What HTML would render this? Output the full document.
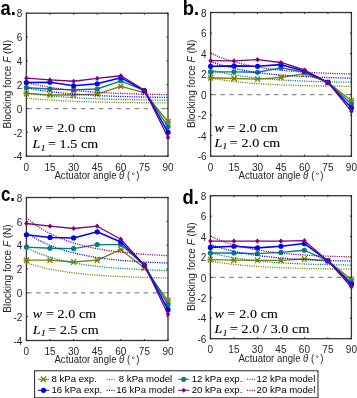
<!DOCTYPE html>
<html><head><meta charset="utf-8"><style>
html,body{margin:0;padding:0;background:#fff;}
body{width:357px;height:398px;overflow:hidden;}
svg{display:block;will-change:transform;}
</style></head><body>
<svg width="357" height="398" viewBox="0 0 357 398">
<rect width="357" height="398" fill="#fff"/>
<clipPath id="ca"><rect x="26.4" y="13.2" width="141.6" height="143"/></clipPath>
<rect x="26.4" y="13.2" width="141.6" height="143" fill="none" stroke="#363636" stroke-width="1.3"/>
<line x1="26.4" y1="108.53" x2="168" y2="108.53" stroke="#8a8a8a" stroke-width="1.2" stroke-dasharray="4.4 4.55" stroke-dashoffset="-0.9"/>
<polyline points="26.4,93.52 50,94.95 73.6,94.95 97.2,94.11 120.8,86.37 144.4,92.56 168,121.76" fill="none" stroke="#808000" stroke-width="1.35" stroke-linejoin="round"/>
<path d="M23.9,90.72L28.9,96.32M23.9,96.32L28.9,90.72M23.4,93.52L29.4,93.52" stroke="#808000" stroke-width="1.3"/>
<path d="M47.5,92.15L52.5,97.75M47.5,97.75L52.5,92.15M47,94.95L53,94.95" stroke="#808000" stroke-width="1.3"/>
<path d="M71.1,92.15L76.1,97.75M71.1,97.75L76.1,92.15M70.6,94.95L76.6,94.95" stroke="#808000" stroke-width="1.3"/>
<path d="M94.7,91.31L99.7,96.91M94.7,96.91L99.7,91.31M94.2,94.11L100.2,94.11" stroke="#808000" stroke-width="1.3"/>
<path d="M118.3,83.57L123.3,89.17M118.3,89.17L123.3,83.57M117.8,86.37L123.8,86.37" stroke="#808000" stroke-width="1.3"/>
<path d="M141.9,89.77L146.9,95.36M141.9,95.36L146.9,89.77M141.4,92.56L147.4,92.56" stroke="#808000" stroke-width="1.3"/>
<path d="M165.5,118.96L170.5,124.56M165.5,124.56L170.5,118.96M165,121.76L171,121.76" stroke="#808000" stroke-width="1.3"/>
<polyline clip-path="url(#ca)" points="26.4,98.14 29.55,98.45 32.69,98.75 35.84,99.02 38.99,99.28 42.13,99.52 45.28,99.75 48.43,99.97 51.57,100.17 54.72,100.36 57.87,100.53 61.01,100.7 64.16,100.86 67.31,101.01 70.45,101.14 73.6,101.27 76.75,101.4 79.89,101.51 83.04,101.62 86.19,101.72 89.33,101.82 92.48,101.9 95.63,101.99 98.77,102.07 101.92,102.14 105.07,102.21 108.21,102.28 111.36,102.34 114.51,102.4 117.65,102.45 120.8,102.5 123.95,102.55 127.09,102.59 130.24,102.64 133.39,102.68 136.53,102.71 139.68,102.75 142.83,102.78 145.97,102.81 149.12,102.84 152.27,102.87 155.41,102.89 158.56,102.92 161.71,102.94 164.85,102.96 168,102.98" fill="none" stroke="#808000" stroke-width="1.3" stroke-dasharray="1.1 1.2"/>
<polyline points="26.4,87.68 50,88.99 73.6,89.94 97.2,88.99 120.8,80.77 144.4,90.66 168,126.77" fill="none" stroke="#008080" stroke-width="1.35" stroke-linejoin="round"/>
<circle cx="26.4" cy="87.68" r="2.6" fill="#008080"/>
<circle cx="50" cy="88.99" r="2.6" fill="#008080"/>
<circle cx="73.6" cy="89.94" r="2.6" fill="#008080"/>
<circle cx="97.2" cy="88.99" r="2.6" fill="#008080"/>
<circle cx="120.8" cy="80.77" r="2.6" fill="#008080"/>
<circle cx="144.4" cy="90.66" r="2.6" fill="#008080"/>
<circle cx="168" cy="126.77" r="2.6" fill="#008080"/>
<polyline clip-path="url(#ca)" points="26.4,92.95 29.55,93.41 32.69,93.85 35.84,94.27 38.99,94.65 42.13,95.02 45.28,95.36 48.43,95.68 51.57,95.98 54.72,96.27 57.87,96.54 61.01,96.79 64.16,97.02 67.31,97.24 70.45,97.45 73.6,97.64 76.75,97.83 79.89,98 83.04,98.16 86.19,98.31 89.33,98.46 92.48,98.59 95.63,98.72 98.77,98.83 101.92,98.95 105.07,99.05 108.21,99.15 111.36,99.24 114.51,99.33 117.65,99.41 120.8,99.48 123.95,99.56 127.09,99.62 130.24,99.69 133.39,99.75 136.53,99.8 139.68,99.85 142.83,99.9 145.97,99.95 149.12,99.99 152.27,100.03 155.41,100.07 158.56,100.11 161.71,100.14 164.85,100.17 168,100.2" fill="none" stroke="#008080" stroke-width="1.3" stroke-dasharray="1.1 1.2"/>
<polyline points="26.4,82.55 50,82.2 73.6,85.77 97.2,83.75 120.8,77.67 144.4,90.66 168,132.37" fill="none" stroke="#0000ff" stroke-width="1.55" stroke-linejoin="round"/>
<circle cx="26.4" cy="82.55" r="2.6" fill="#0000ff"/>
<circle cx="50" cy="82.2" r="2.6" fill="#0000ff"/>
<circle cx="73.6" cy="85.77" r="2.6" fill="#0000ff"/>
<circle cx="97.2" cy="83.75" r="2.6" fill="#0000ff"/>
<circle cx="120.8" cy="77.67" r="2.6" fill="#0000ff"/>
<circle cx="144.4" cy="90.66" r="2.6" fill="#0000ff"/>
<circle cx="168" cy="132.37" r="2.6" fill="#0000ff"/>
<polyline clip-path="url(#ca)" points="26.4,87.75 29.55,88.37 32.69,88.96 35.84,89.51 38.99,90.03 42.13,90.51 45.28,90.97 48.43,91.4 51.57,91.8 54.72,92.18 57.87,92.54 61.01,92.87 64.16,93.18 67.31,93.48 70.45,93.75 73.6,94.01 76.75,94.26 79.89,94.49 83.04,94.7 86.19,94.91 89.33,95.1 92.48,95.28 95.63,95.44 98.77,95.6 101.92,95.75 105.07,95.89 108.21,96.02 111.36,96.14 114.51,96.26 117.65,96.37 120.8,96.47 123.95,96.56 127.09,96.65 130.24,96.74 133.39,96.82 136.53,96.89 139.68,96.96 142.83,97.03 145.97,97.09 149.12,97.15 152.27,97.2 155.41,97.25 158.56,97.3 161.71,97.35 164.85,97.39 168,97.43" fill="none" stroke="#0000ff" stroke-width="1.3" stroke-dasharray="1.1 1.2"/>
<polyline points="26.4,78.15 50,79.93 73.6,81.24 97.2,78.38 120.8,75.76 144.4,90.06 168,137.49" fill="none" stroke="#800080" stroke-width="1.3" stroke-linejoin="round"/>
<path d="M26.4,75.55L28.7,78.15L26.4,80.75L24.1,78.15Z" fill="#800080"/>
<path d="M50,77.33L52.3,79.93L50,82.53L47.7,79.93Z" fill="#800080"/>
<path d="M73.6,78.64L75.9,81.24L73.6,83.84L71.3,81.24Z" fill="#800080"/>
<path d="M97.2,75.78L99.5,78.38L97.2,80.98L94.9,78.38Z" fill="#800080"/>
<path d="M120.8,73.16L123.1,75.76L120.8,78.36L118.5,75.76Z" fill="#800080"/>
<path d="M144.4,87.46L146.7,90.06L144.4,92.66L142.1,90.06Z" fill="#800080"/>
<path d="M168,134.89L170.3,137.49L168,140.09L165.7,137.49Z" fill="#800080"/>
<polyline clip-path="url(#ca)" points="26.4,82.55 29.55,83.33 32.69,84.07 35.84,84.76 38.99,85.4 42.13,86.01 45.28,86.58 48.43,87.12 51.57,87.62 54.72,88.09 57.87,88.54 61.01,88.95 64.16,89.35 67.31,89.71 70.45,90.06 73.6,90.39 76.75,90.69 79.89,90.98 83.04,91.25 86.19,91.5 89.33,91.74 92.48,91.96 95.63,92.17 98.77,92.37 101.92,92.55 105.07,92.73 108.21,92.89 111.36,93.04 114.51,93.19 117.65,93.32 120.8,93.45 123.95,93.57 127.09,93.68 130.24,93.79 133.39,93.89 136.53,93.98 139.68,94.07 142.83,94.15 145.97,94.23 149.12,94.3 152.27,94.37 155.41,94.43 158.56,94.49 161.71,94.55 164.85,94.6 168,94.65" fill="none" stroke="#800080" stroke-width="1.3" stroke-dasharray="1.1 1.2"/>
<line x1="26.4" y1="156.2" x2="26.4" y2="154.7" stroke="#262626" stroke-width="1"/>
<line x1="26.4" y1="13.2" x2="26.4" y2="14.7" stroke="#262626" stroke-width="1"/>
<text x="26.4" y="170.8" text-anchor="middle" font-family="Liberation Sans, sans-serif" font-size="10" fill="#262626">0</text>
<line x1="50" y1="156.2" x2="50" y2="154.7" stroke="#262626" stroke-width="1"/>
<line x1="50" y1="13.2" x2="50" y2="14.7" stroke="#262626" stroke-width="1"/>
<text x="50" y="170.8" text-anchor="middle" font-family="Liberation Sans, sans-serif" font-size="10" fill="#262626">15</text>
<line x1="73.6" y1="156.2" x2="73.6" y2="154.7" stroke="#262626" stroke-width="1"/>
<line x1="73.6" y1="13.2" x2="73.6" y2="14.7" stroke="#262626" stroke-width="1"/>
<text x="73.6" y="170.8" text-anchor="middle" font-family="Liberation Sans, sans-serif" font-size="10" fill="#262626">30</text>
<line x1="97.2" y1="156.2" x2="97.2" y2="154.7" stroke="#262626" stroke-width="1"/>
<line x1="97.2" y1="13.2" x2="97.2" y2="14.7" stroke="#262626" stroke-width="1"/>
<text x="97.2" y="170.8" text-anchor="middle" font-family="Liberation Sans, sans-serif" font-size="10" fill="#262626">45</text>
<line x1="120.8" y1="156.2" x2="120.8" y2="154.7" stroke="#262626" stroke-width="1"/>
<line x1="120.8" y1="13.2" x2="120.8" y2="14.7" stroke="#262626" stroke-width="1"/>
<text x="120.8" y="170.8" text-anchor="middle" font-family="Liberation Sans, sans-serif" font-size="10" fill="#262626">60</text>
<line x1="144.4" y1="156.2" x2="144.4" y2="154.7" stroke="#262626" stroke-width="1"/>
<line x1="144.4" y1="13.2" x2="144.4" y2="14.7" stroke="#262626" stroke-width="1"/>
<text x="144.4" y="170.8" text-anchor="middle" font-family="Liberation Sans, sans-serif" font-size="10" fill="#262626">75</text>
<line x1="168" y1="156.2" x2="168" y2="154.7" stroke="#262626" stroke-width="1"/>
<line x1="168" y1="13.2" x2="168" y2="14.7" stroke="#262626" stroke-width="1"/>
<text x="168" y="170.8" text-anchor="middle" font-family="Liberation Sans, sans-serif" font-size="10" fill="#262626">90</text>
<line x1="26.4" y1="156.2" x2="27.9" y2="156.2" stroke="#262626" stroke-width="1"/>
<line x1="168" y1="156.2" x2="166.5" y2="156.2" stroke="#262626" stroke-width="1"/>
<text x="22.4" y="160.4" text-anchor="end" font-family="Liberation Sans, sans-serif" font-size="10" fill="#262626">-4</text>
<line x1="26.4" y1="132.37" x2="27.9" y2="132.37" stroke="#262626" stroke-width="1"/>
<line x1="168" y1="132.37" x2="166.5" y2="132.37" stroke="#262626" stroke-width="1"/>
<text x="22.4" y="136.57" text-anchor="end" font-family="Liberation Sans, sans-serif" font-size="10" fill="#262626">-2</text>
<line x1="26.4" y1="108.53" x2="27.9" y2="108.53" stroke="#262626" stroke-width="1"/>
<line x1="168" y1="108.53" x2="166.5" y2="108.53" stroke="#262626" stroke-width="1"/>
<text x="22.4" y="112.73" text-anchor="end" font-family="Liberation Sans, sans-serif" font-size="10" fill="#262626">0</text>
<line x1="26.4" y1="84.7" x2="27.9" y2="84.7" stroke="#262626" stroke-width="1"/>
<line x1="168" y1="84.7" x2="166.5" y2="84.7" stroke="#262626" stroke-width="1"/>
<text x="22.4" y="88.9" text-anchor="end" font-family="Liberation Sans, sans-serif" font-size="10" fill="#262626">2</text>
<line x1="26.4" y1="60.87" x2="27.9" y2="60.87" stroke="#262626" stroke-width="1"/>
<line x1="168" y1="60.87" x2="166.5" y2="60.87" stroke="#262626" stroke-width="1"/>
<text x="22.4" y="65.07" text-anchor="end" font-family="Liberation Sans, sans-serif" font-size="10" fill="#262626">4</text>
<line x1="26.4" y1="37.03" x2="27.9" y2="37.03" stroke="#262626" stroke-width="1"/>
<line x1="168" y1="37.03" x2="166.5" y2="37.03" stroke="#262626" stroke-width="1"/>
<text x="22.4" y="41.23" text-anchor="end" font-family="Liberation Sans, sans-serif" font-size="10" fill="#262626">6</text>
<line x1="26.4" y1="13.2" x2="27.9" y2="13.2" stroke="#262626" stroke-width="1"/>
<line x1="168" y1="13.2" x2="166.5" y2="13.2" stroke="#262626" stroke-width="1"/>
<text x="22.4" y="17.4" text-anchor="end" font-family="Liberation Sans, sans-serif" font-size="10" fill="#262626">8</text>
<text transform="translate(54.4,179) scale(0.955,1)" x="0" y="0" font-family="Liberation Sans, sans-serif" font-size="10.1" fill="#262626">Actuator angle <tspan font-style="italic" dx="-0.3">θ</tspan> <tspan dx="0.3">(</tspan><tspan dx="1.3" font-size="9">°</tspan><tspan dx="1.2">)</tspan></text>
<text transform="translate(10.8,84.2) rotate(-90)" x="0" y="0" text-anchor="middle" font-family="Liberation Sans, sans-serif" font-size="10" fill="#262626">Blocking force <tspan font-style="italic">F</tspan> (N)</text>
<text transform="translate(0.6,15) scale(0.92,1)" x="0" y="0" font-family="Liberation Sans, sans-serif" font-size="20" font-weight="bold" fill="#000">a.</text>
<text transform="translate(32.5,131.6) scale(1.13,1)" x="0" y="0" font-family="Liberation Serif, serif" font-size="12.4" letter-spacing="0.1" fill="#000" stroke="#000" stroke-width="0.1"><tspan font-style="italic">w</tspan> = 2.0 cm</text>
<text transform="translate(32.5,148.3) scale(1.13,1)" x="0" y="0" font-family="Liberation Serif, serif" font-size="12.4" letter-spacing="0.1" fill="#000" stroke="#000" stroke-width="0.1"><tspan font-style="italic">L</tspan><tspan font-style="italic" font-size="9" dy="2.2">1</tspan><tspan dy="-2.2" dx="-1.1"> = 1.5 cm</tspan></text>
<clipPath id="cb"><rect x="210.6" y="12.5" width="140.8" height="143.7"/></clipPath>
<rect x="210.6" y="12.5" width="140.8" height="143.7" fill="none" stroke="#363636" stroke-width="1.3"/>
<line x1="210.6" y1="94.61" x2="351.4" y2="94.61" stroke="#8a8a8a" stroke-width="1.2" stroke-dasharray="4.4 4.55" stroke-dashoffset="-0.9"/>
<polyline points="210.6,77.78 234.07,78.5 257.53,79.12 281,77.47 304.47,73.68 327.93,82.4 351.4,100.67" fill="none" stroke="#808000" stroke-width="1.35" stroke-linejoin="round"/>
<path d="M208.1,74.98L213.1,80.58M208.1,80.58L213.1,74.98M207.6,77.78L213.6,77.78" stroke="#808000" stroke-width="1.3"/>
<path d="M231.57,75.7L236.57,81.3M231.57,81.3L236.57,75.7M231.07,78.5L237.07,78.5" stroke="#808000" stroke-width="1.3"/>
<path d="M255.03,76.32L260.03,81.92M255.03,81.92L260.03,76.32M254.53,79.12L260.53,79.12" stroke="#808000" stroke-width="1.3"/>
<path d="M278.5,74.67L283.5,80.27M278.5,80.27L283.5,74.67M278,77.47L284,77.47" stroke="#808000" stroke-width="1.3"/>
<path d="M301.97,70.88L306.97,76.48M301.97,76.48L306.97,70.88M301.47,73.68L307.47,73.68" stroke="#808000" stroke-width="1.3"/>
<path d="M325.43,79.6L330.43,85.2M325.43,85.2L330.43,79.6M324.93,82.4L330.93,82.4" stroke="#808000" stroke-width="1.3"/>
<path d="M348.9,97.87L353.9,103.47M348.9,103.47L353.9,97.87M348.4,100.67L354.4,100.67" stroke="#808000" stroke-width="1.3"/>
<polyline clip-path="url(#cb)" points="210.6,78.03 213.73,78.59 216.86,79.12 219.99,79.62 223.12,80.08 226.24,80.52 229.37,80.92 232.5,81.3 235.63,81.66 238.76,81.99 241.89,82.3 245.02,82.59 248.15,82.87 251.28,83.12 254.4,83.36 257.53,83.58 260.66,83.79 263.79,83.98 266.92,84.17 270.05,84.34 273.18,84.5 276.31,84.65 279.44,84.79 282.56,84.92 285.69,85.04 288.82,85.15 291.95,85.26 295.08,85.36 298.21,85.45 301.34,85.54 304.47,85.62 307.6,85.7 310.72,85.77 313.85,85.84 316.98,85.9 320.11,85.96 323.24,86.02 326.37,86.07 329.5,86.12 332.63,86.16 335.76,86.2 338.88,86.24 342.01,86.28 345.14,86.31 348.27,86.35 351.4,86.38" fill="none" stroke="#808000" stroke-width="1.3" stroke-dasharray="1.1 1.2"/>
<polyline points="210.6,71.83 234.07,71.83 257.53,72.24 281,67.82 304.47,72.03 327.93,82.4 351.4,104.06" fill="none" stroke="#008080" stroke-width="1.35" stroke-linejoin="round"/>
<circle cx="210.6" cy="71.83" r="2.6" fill="#008080"/>
<circle cx="234.07" cy="71.83" r="2.6" fill="#008080"/>
<circle cx="257.53" cy="72.24" r="2.6" fill="#008080"/>
<circle cx="281" cy="67.82" r="2.6" fill="#008080"/>
<circle cx="304.47" cy="72.03" r="2.6" fill="#008080"/>
<circle cx="327.93" cy="82.4" r="2.6" fill="#008080"/>
<circle cx="351.4" cy="104.06" r="2.6" fill="#008080"/>
<polyline clip-path="url(#cb)" points="210.6,69.73 213.73,70.58 216.86,71.38 219.99,72.12 223.12,72.82 226.24,73.47 229.37,74.08 232.5,74.65 235.63,75.18 238.76,75.68 241.89,76.15 245.02,76.58 248.15,76.99 251.28,77.37 254.4,77.73 257.53,78.06 260.66,78.38 263.79,78.67 266.92,78.94 270.05,79.2 273.18,79.44 276.31,79.66 279.44,79.87 282.56,80.07 285.69,80.25 288.82,80.42 291.95,80.58 295.08,80.73 298.21,80.87 301.34,81.01 304.47,81.13 307.6,81.24 310.72,81.35 313.85,81.45 316.98,81.55 320.11,81.63 323.24,81.72 326.37,81.79 329.5,81.87 332.63,81.93 335.76,82 338.88,82.06 342.01,82.11 345.14,82.16 348.27,82.21 351.4,82.26" fill="none" stroke="#008080" stroke-width="1.3" stroke-dasharray="1.1 1.2"/>
<polyline points="210.6,66.28 234.07,65.87 257.53,66.28 281,64.64 304.47,71.01 327.93,82.4 351.4,107.96" fill="none" stroke="#0000ff" stroke-width="1.55" stroke-linejoin="round"/>
<circle cx="210.6" cy="66.28" r="2.6" fill="#0000ff"/>
<circle cx="234.07" cy="65.87" r="2.6" fill="#0000ff"/>
<circle cx="257.53" cy="66.28" r="2.6" fill="#0000ff"/>
<circle cx="281" cy="64.64" r="2.6" fill="#0000ff"/>
<circle cx="304.47" cy="71.01" r="2.6" fill="#0000ff"/>
<circle cx="327.93" cy="82.4" r="2.6" fill="#0000ff"/>
<circle cx="351.4" cy="107.96" r="2.6" fill="#0000ff"/>
<polyline clip-path="url(#cb)" points="210.6,61.44 213.73,62.57 216.86,63.63 219.99,64.63 223.12,65.55 226.24,66.42 229.37,67.23 232.5,67.99 235.63,68.7 238.76,69.37 241.89,69.99 245.02,70.57 248.15,71.12 251.28,71.63 254.4,72.1 257.53,72.55 260.66,72.96 263.79,73.35 266.92,73.72 270.05,74.06 273.18,74.38 276.31,74.68 279.44,74.96 282.56,75.22 285.69,75.46 288.82,75.69 291.95,75.91 295.08,76.11 298.21,76.3 301.34,76.47 304.47,76.63 307.6,76.79 310.72,76.93 313.85,77.07 316.98,77.19 320.11,77.31 323.24,77.42 326.37,77.52 329.5,77.62 332.63,77.71 335.76,77.79 338.88,77.87 342.01,77.94 345.14,78.01 348.27,78.08 351.4,78.14" fill="none" stroke="#0000ff" stroke-width="1.3" stroke-dasharray="1.1 1.2"/>
<polyline points="210.6,60.64 234.07,60.95 257.53,59.61 281,62.49 304.47,69.98 327.93,82.4 351.4,111.35" fill="none" stroke="#800080" stroke-width="1.3" stroke-linejoin="round"/>
<path d="M210.6,58.04L212.9,60.64L210.6,63.24L208.3,60.64Z" fill="#800080"/>
<path d="M234.07,58.35L236.37,60.95L234.07,63.55L231.77,60.95Z" fill="#800080"/>
<path d="M257.53,57.01L259.83,59.61L257.53,62.21L255.23,59.61Z" fill="#800080"/>
<path d="M281,59.89L283.3,62.49L281,65.09L278.7,62.49Z" fill="#800080"/>
<path d="M304.47,67.38L306.77,69.98L304.47,72.58L302.17,69.98Z" fill="#800080"/>
<path d="M327.93,79.8L330.23,82.4L327.93,85L325.63,82.4Z" fill="#800080"/>
<path d="M351.4,108.75L353.7,111.35L351.4,113.95L349.1,111.35Z" fill="#800080"/>
<polyline clip-path="url(#cb)" points="210.6,53.15 213.73,54.56 216.86,55.89 219.99,57.13 223.12,58.29 226.24,59.37 229.37,60.39 232.5,61.34 235.63,62.23 238.76,63.06 241.89,63.83 245.02,64.56 248.15,65.24 251.28,65.88 254.4,66.47 257.53,67.03 260.66,67.55 263.79,68.04 266.92,68.5 270.05,68.92 273.18,69.32 276.31,69.7 279.44,70.04 282.56,70.37 285.69,70.68 288.82,70.96 291.95,71.23 295.08,71.48 298.21,71.72 301.34,71.93 304.47,72.14 307.6,72.33 310.72,72.51 313.85,72.68 316.98,72.84 320.11,72.98 323.24,73.12 326.37,73.25 329.5,73.37 332.63,73.48 335.76,73.59 338.88,73.68 342.01,73.78 345.14,73.86 348.27,73.94 351.4,74.02" fill="none" stroke="#800080" stroke-width="1.3" stroke-dasharray="1.1 1.2"/>
<line x1="210.6" y1="156.2" x2="210.6" y2="154.7" stroke="#262626" stroke-width="1"/>
<line x1="210.6" y1="12.5" x2="210.6" y2="14" stroke="#262626" stroke-width="1"/>
<text x="210.6" y="170.8" text-anchor="middle" font-family="Liberation Sans, sans-serif" font-size="10" fill="#262626">0</text>
<line x1="234.07" y1="156.2" x2="234.07" y2="154.7" stroke="#262626" stroke-width="1"/>
<line x1="234.07" y1="12.5" x2="234.07" y2="14" stroke="#262626" stroke-width="1"/>
<text x="234.07" y="170.8" text-anchor="middle" font-family="Liberation Sans, sans-serif" font-size="10" fill="#262626">15</text>
<line x1="257.53" y1="156.2" x2="257.53" y2="154.7" stroke="#262626" stroke-width="1"/>
<line x1="257.53" y1="12.5" x2="257.53" y2="14" stroke="#262626" stroke-width="1"/>
<text x="257.53" y="170.8" text-anchor="middle" font-family="Liberation Sans, sans-serif" font-size="10" fill="#262626">30</text>
<line x1="281" y1="156.2" x2="281" y2="154.7" stroke="#262626" stroke-width="1"/>
<line x1="281" y1="12.5" x2="281" y2="14" stroke="#262626" stroke-width="1"/>
<text x="281" y="170.8" text-anchor="middle" font-family="Liberation Sans, sans-serif" font-size="10" fill="#262626">45</text>
<line x1="304.47" y1="156.2" x2="304.47" y2="154.7" stroke="#262626" stroke-width="1"/>
<line x1="304.47" y1="12.5" x2="304.47" y2="14" stroke="#262626" stroke-width="1"/>
<text x="304.47" y="170.8" text-anchor="middle" font-family="Liberation Sans, sans-serif" font-size="10" fill="#262626">60</text>
<line x1="327.93" y1="156.2" x2="327.93" y2="154.7" stroke="#262626" stroke-width="1"/>
<line x1="327.93" y1="12.5" x2="327.93" y2="14" stroke="#262626" stroke-width="1"/>
<text x="327.93" y="170.8" text-anchor="middle" font-family="Liberation Sans, sans-serif" font-size="10" fill="#262626">75</text>
<line x1="351.4" y1="156.2" x2="351.4" y2="154.7" stroke="#262626" stroke-width="1"/>
<line x1="351.4" y1="12.5" x2="351.4" y2="14" stroke="#262626" stroke-width="1"/>
<text x="351.4" y="170.8" text-anchor="middle" font-family="Liberation Sans, sans-serif" font-size="10" fill="#262626">90</text>
<line x1="210.6" y1="156.2" x2="212.1" y2="156.2" stroke="#262626" stroke-width="1"/>
<line x1="351.4" y1="156.2" x2="349.9" y2="156.2" stroke="#262626" stroke-width="1"/>
<text x="206.6" y="160.4" text-anchor="end" font-family="Liberation Sans, sans-serif" font-size="10" fill="#262626">-6</text>
<line x1="210.6" y1="135.67" x2="212.1" y2="135.67" stroke="#262626" stroke-width="1"/>
<line x1="351.4" y1="135.67" x2="349.9" y2="135.67" stroke="#262626" stroke-width="1"/>
<text x="206.6" y="139.87" text-anchor="end" font-family="Liberation Sans, sans-serif" font-size="10" fill="#262626">-4</text>
<line x1="210.6" y1="115.14" x2="212.1" y2="115.14" stroke="#262626" stroke-width="1"/>
<line x1="351.4" y1="115.14" x2="349.9" y2="115.14" stroke="#262626" stroke-width="1"/>
<text x="206.6" y="119.34" text-anchor="end" font-family="Liberation Sans, sans-serif" font-size="10" fill="#262626">-2</text>
<line x1="210.6" y1="94.61" x2="212.1" y2="94.61" stroke="#262626" stroke-width="1"/>
<line x1="351.4" y1="94.61" x2="349.9" y2="94.61" stroke="#262626" stroke-width="1"/>
<text x="206.6" y="98.81" text-anchor="end" font-family="Liberation Sans, sans-serif" font-size="10" fill="#262626">0</text>
<line x1="210.6" y1="74.09" x2="212.1" y2="74.09" stroke="#262626" stroke-width="1"/>
<line x1="351.4" y1="74.09" x2="349.9" y2="74.09" stroke="#262626" stroke-width="1"/>
<text x="206.6" y="78.29" text-anchor="end" font-family="Liberation Sans, sans-serif" font-size="10" fill="#262626">2</text>
<line x1="210.6" y1="53.56" x2="212.1" y2="53.56" stroke="#262626" stroke-width="1"/>
<line x1="351.4" y1="53.56" x2="349.9" y2="53.56" stroke="#262626" stroke-width="1"/>
<text x="206.6" y="57.76" text-anchor="end" font-family="Liberation Sans, sans-serif" font-size="10" fill="#262626">4</text>
<line x1="210.6" y1="33.03" x2="212.1" y2="33.03" stroke="#262626" stroke-width="1"/>
<line x1="351.4" y1="33.03" x2="349.9" y2="33.03" stroke="#262626" stroke-width="1"/>
<text x="206.6" y="37.23" text-anchor="end" font-family="Liberation Sans, sans-serif" font-size="10" fill="#262626">6</text>
<line x1="210.6" y1="12.5" x2="212.1" y2="12.5" stroke="#262626" stroke-width="1"/>
<line x1="351.4" y1="12.5" x2="349.9" y2="12.5" stroke="#262626" stroke-width="1"/>
<text x="206.6" y="16.7" text-anchor="end" font-family="Liberation Sans, sans-serif" font-size="10" fill="#262626">8</text>
<text transform="translate(238.6,179) scale(0.955,1)" x="0" y="0" font-family="Liberation Sans, sans-serif" font-size="10.1" fill="#262626">Actuator angle <tspan font-style="italic" dx="-0.3">θ</tspan> <tspan dx="0.3">(</tspan><tspan dx="1.3" font-size="9">°</tspan><tspan dx="1.2">)</tspan></text>
<text transform="translate(195,83.85) rotate(-90)" x="0" y="0" text-anchor="middle" font-family="Liberation Sans, sans-serif" font-size="10" fill="#262626">Blocking force <tspan font-style="italic">F</tspan> (N)</text>
<text transform="translate(182.8,14.6) scale(0.92,1)" x="0" y="0" font-family="Liberation Sans, sans-serif" font-size="20" font-weight="bold" fill="#000">b.</text>
<text transform="translate(214.4,131.6) scale(1.13,1)" x="0" y="0" font-family="Liberation Serif, serif" font-size="12.4" letter-spacing="0.1" fill="#000" stroke="#000" stroke-width="0.1"><tspan font-style="italic">w</tspan> = 2.0 cm</text>
<text transform="translate(214.4,147) scale(1.13,1)" x="0" y="0" font-family="Liberation Serif, serif" font-size="12.4" letter-spacing="0.1" fill="#000" stroke="#000" stroke-width="0.1"><tspan font-style="italic">L</tspan><tspan font-style="italic" font-size="9" dy="2.2">1</tspan><tspan dy="-2.2" dx="-1.1"> = 2.0 cm</tspan></text>
<clipPath id="cc"><rect x="26.4" y="197.5" width="141.6" height="143"/></clipPath>
<rect x="26.4" y="197.5" width="141.6" height="143" fill="none" stroke="#363636" stroke-width="1.3"/>
<line x1="26.4" y1="292.83" x2="168" y2="292.83" stroke="#8a8a8a" stroke-width="1.2" stroke-dasharray="4.4 4.55" stroke-dashoffset="-0.9"/>
<polyline points="26.4,260.18 50,260.18 73.6,261.97 97.2,260.18 120.8,249.69 144.4,268.05 168,300.58" fill="none" stroke="#808000" stroke-width="1.35" stroke-linejoin="round"/>
<path d="M23.9,257.38L28.9,262.98M23.9,262.98L28.9,257.38M23.4,260.18L29.4,260.18" stroke="#808000" stroke-width="1.3"/>
<path d="M47.5,257.38L52.5,262.98M47.5,262.98L52.5,257.38M47,260.18L53,260.18" stroke="#808000" stroke-width="1.3"/>
<path d="M71.1,259.17L76.1,264.77M71.1,264.77L76.1,259.17M70.6,261.97L76.6,261.97" stroke="#808000" stroke-width="1.3"/>
<path d="M94.7,257.38L99.7,262.98M94.7,262.98L99.7,257.38M94.2,260.18L100.2,260.18" stroke="#808000" stroke-width="1.3"/>
<path d="M118.3,246.89L123.3,252.5M118.3,252.5L123.3,246.89M117.8,249.69L123.8,249.69" stroke="#808000" stroke-width="1.3"/>
<path d="M141.9,265.25L146.9,270.85M141.9,270.85L146.9,265.25M141.4,268.05L147.4,268.05" stroke="#808000" stroke-width="1.3"/>
<path d="M165.5,297.78L170.5,303.38M165.5,303.38L170.5,297.78M165,300.58L171,300.58" stroke="#808000" stroke-width="1.3"/>
<polyline clip-path="url(#cc)" points="26.4,262.8 29.55,263.83 32.69,264.79 35.84,265.69 38.99,266.53 42.13,267.32 45.28,268.05 48.43,268.74 51.57,269.38 54.72,269.99 57.87,270.55 61.01,271.08 64.16,271.57 67.31,272.03 70.45,272.46 73.6,272.87 76.75,273.24 79.89,273.6 83.04,273.93 86.19,274.24 89.33,274.53 92.48,274.8 95.63,275.05 98.77,275.29 101.92,275.51 105.07,275.72 108.21,275.91 111.36,276.09 114.51,276.26 117.65,276.42 120.8,276.57 123.95,276.71 127.09,276.84 130.24,276.96 133.39,277.07 136.53,277.18 139.68,277.28 142.83,277.37 145.97,277.46 149.12,277.54 152.27,277.62 155.41,277.69 158.56,277.76 161.71,277.82 164.85,277.88 168,277.93" fill="none" stroke="#808000" stroke-width="1.3" stroke-dasharray="1.1 1.2"/>
<polyline points="26.4,247.07 50,248.26 73.6,248.62 97.2,244.57 120.8,244.57 144.4,265.43 168,304.63" fill="none" stroke="#008080" stroke-width="1.35" stroke-linejoin="round"/>
<circle cx="26.4" cy="247.07" r="2.6" fill="#008080"/>
<circle cx="50" cy="248.26" r="2.6" fill="#008080"/>
<circle cx="73.6" cy="248.62" r="2.6" fill="#008080"/>
<circle cx="97.2" cy="244.57" r="2.6" fill="#008080"/>
<circle cx="120.8" cy="244.57" r="2.6" fill="#008080"/>
<circle cx="144.4" cy="265.43" r="2.6" fill="#008080"/>
<circle cx="168" cy="304.63" r="2.6" fill="#008080"/>
<polyline clip-path="url(#cc)" points="26.4,247.79 29.55,249.33 32.69,250.77 35.84,252.12 38.99,253.38 42.13,254.56 45.28,255.66 48.43,256.69 51.57,257.66 54.72,258.56 57.87,259.41 61.01,260.2 64.16,260.94 67.31,261.63 70.45,262.28 73.6,262.88 76.75,263.45 79.89,263.98 83.04,264.48 86.19,264.94 89.33,265.37 92.48,265.78 95.63,266.16 98.77,266.52 101.92,266.85 105.07,267.16 108.21,267.45 111.36,267.72 114.51,267.98 117.65,268.21 120.8,268.44 123.95,268.65 127.09,268.84 130.24,269.02 133.39,269.19 136.53,269.35 139.68,269.5 142.83,269.64 145.97,269.77 149.12,269.9 152.27,270.01 155.41,270.12 158.56,270.22 161.71,270.31 164.85,270.4 168,270.48" fill="none" stroke="#008080" stroke-width="1.3" stroke-dasharray="1.1 1.2"/>
<polyline points="26.4,234.8 50,237.42 73.6,237.9 97.2,231.82 120.8,241.95 144.4,265.07 168,309.64" fill="none" stroke="#0000ff" stroke-width="1.55" stroke-linejoin="round"/>
<circle cx="26.4" cy="234.8" r="2.6" fill="#0000ff"/>
<circle cx="50" cy="237.42" r="2.6" fill="#0000ff"/>
<circle cx="73.6" cy="237.9" r="2.6" fill="#0000ff"/>
<circle cx="97.2" cy="231.82" r="2.6" fill="#0000ff"/>
<circle cx="120.8" cy="241.95" r="2.6" fill="#0000ff"/>
<circle cx="144.4" cy="265.07" r="2.6" fill="#0000ff"/>
<circle cx="168" cy="309.64" r="2.6" fill="#0000ff"/>
<polyline clip-path="url(#cc)" points="26.4,232.77 29.55,234.83 32.69,236.75 35.84,238.55 38.99,240.23 42.13,241.8 45.28,243.27 48.43,244.65 51.57,245.94 54.72,247.14 57.87,248.27 61.01,249.32 64.16,250.31 67.31,251.23 70.45,252.09 73.6,252.9 76.75,253.66 79.89,254.36 83.04,255.02 86.19,255.64 89.33,256.22 92.48,256.76 95.63,257.27 98.77,257.74 101.92,258.19 105.07,258.6 108.21,258.99 111.36,259.35 114.51,259.69 117.65,260.01 120.8,260.31 123.95,260.58 127.09,260.84 130.24,261.09 133.39,261.31 136.53,261.53 139.68,261.73 142.83,261.91 145.97,262.09 149.12,262.25 152.27,262.4 155.41,262.54 158.56,262.68 161.71,262.8 164.85,262.92 168,263.03" fill="none" stroke="#0000ff" stroke-width="1.3" stroke-dasharray="1.1 1.2"/>
<polyline points="26.4,223.48 50,226.22 73.6,228.48 97.2,226.22 120.8,239.21 144.4,265.07 168,314.16" fill="none" stroke="#800080" stroke-width="1.3" stroke-linejoin="round"/>
<path d="M26.4,220.88L28.7,223.48L26.4,226.08L24.1,223.48Z" fill="#800080"/>
<path d="M50,223.62L52.3,226.22L50,228.82L47.7,226.22Z" fill="#800080"/>
<path d="M73.6,225.88L75.9,228.48L73.6,231.08L71.3,228.48Z" fill="#800080"/>
<path d="M97.2,223.62L99.5,226.22L97.2,228.82L94.9,226.22Z" fill="#800080"/>
<path d="M120.8,236.61L123.1,239.21L120.8,241.81L118.5,239.21Z" fill="#800080"/>
<path d="M144.4,262.47L146.7,265.07L144.4,267.67L142.1,265.07Z" fill="#800080"/>
<path d="M168,311.56L170.3,314.16L168,316.76L165.7,314.16Z" fill="#800080"/>
<polyline clip-path="url(#cc)" points="26.4,217.76 29.55,220.33 32.69,222.73 35.84,224.97 38.99,227.07 42.13,229.04 45.28,230.88 48.43,232.6 51.57,234.21 54.72,235.72 57.87,237.13 61.01,238.44 64.16,239.68 67.31,240.83 70.45,241.91 73.6,242.92 76.75,243.86 79.89,244.75 83.04,245.57 86.19,246.35 89.33,247.07 92.48,247.75 95.63,248.38 98.77,248.97 101.92,249.52 105.07,250.04 108.21,250.53 111.36,250.98 114.51,251.41 117.65,251.8 120.8,252.17 123.95,252.52 127.09,252.85 130.24,253.15 133.39,253.43 136.53,253.7 139.68,253.95 142.83,254.18 145.97,254.4 149.12,254.6 152.27,254.79 155.41,254.97 158.56,255.14 161.71,255.3 164.85,255.44 168,255.58" fill="none" stroke="#800080" stroke-width="1.3" stroke-dasharray="1.1 1.2"/>
<line x1="26.4" y1="340.5" x2="26.4" y2="339" stroke="#262626" stroke-width="1"/>
<line x1="26.4" y1="197.5" x2="26.4" y2="199" stroke="#262626" stroke-width="1"/>
<text x="26.4" y="355.1" text-anchor="middle" font-family="Liberation Sans, sans-serif" font-size="10" fill="#262626">0</text>
<line x1="50" y1="340.5" x2="50" y2="339" stroke="#262626" stroke-width="1"/>
<line x1="50" y1="197.5" x2="50" y2="199" stroke="#262626" stroke-width="1"/>
<text x="50" y="355.1" text-anchor="middle" font-family="Liberation Sans, sans-serif" font-size="10" fill="#262626">15</text>
<line x1="73.6" y1="340.5" x2="73.6" y2="339" stroke="#262626" stroke-width="1"/>
<line x1="73.6" y1="197.5" x2="73.6" y2="199" stroke="#262626" stroke-width="1"/>
<text x="73.6" y="355.1" text-anchor="middle" font-family="Liberation Sans, sans-serif" font-size="10" fill="#262626">30</text>
<line x1="97.2" y1="340.5" x2="97.2" y2="339" stroke="#262626" stroke-width="1"/>
<line x1="97.2" y1="197.5" x2="97.2" y2="199" stroke="#262626" stroke-width="1"/>
<text x="97.2" y="355.1" text-anchor="middle" font-family="Liberation Sans, sans-serif" font-size="10" fill="#262626">45</text>
<line x1="120.8" y1="340.5" x2="120.8" y2="339" stroke="#262626" stroke-width="1"/>
<line x1="120.8" y1="197.5" x2="120.8" y2="199" stroke="#262626" stroke-width="1"/>
<text x="120.8" y="355.1" text-anchor="middle" font-family="Liberation Sans, sans-serif" font-size="10" fill="#262626">60</text>
<line x1="144.4" y1="340.5" x2="144.4" y2="339" stroke="#262626" stroke-width="1"/>
<line x1="144.4" y1="197.5" x2="144.4" y2="199" stroke="#262626" stroke-width="1"/>
<text x="144.4" y="355.1" text-anchor="middle" font-family="Liberation Sans, sans-serif" font-size="10" fill="#262626">75</text>
<line x1="168" y1="340.5" x2="168" y2="339" stroke="#262626" stroke-width="1"/>
<line x1="168" y1="197.5" x2="168" y2="199" stroke="#262626" stroke-width="1"/>
<text x="168" y="355.1" text-anchor="middle" font-family="Liberation Sans, sans-serif" font-size="10" fill="#262626">90</text>
<line x1="26.4" y1="340.5" x2="27.9" y2="340.5" stroke="#262626" stroke-width="1"/>
<line x1="168" y1="340.5" x2="166.5" y2="340.5" stroke="#262626" stroke-width="1"/>
<text x="22.4" y="344.7" text-anchor="end" font-family="Liberation Sans, sans-serif" font-size="10" fill="#262626">-4</text>
<line x1="26.4" y1="316.67" x2="27.9" y2="316.67" stroke="#262626" stroke-width="1"/>
<line x1="168" y1="316.67" x2="166.5" y2="316.67" stroke="#262626" stroke-width="1"/>
<text x="22.4" y="320.87" text-anchor="end" font-family="Liberation Sans, sans-serif" font-size="10" fill="#262626">-2</text>
<line x1="26.4" y1="292.83" x2="27.9" y2="292.83" stroke="#262626" stroke-width="1"/>
<line x1="168" y1="292.83" x2="166.5" y2="292.83" stroke="#262626" stroke-width="1"/>
<text x="22.4" y="297.03" text-anchor="end" font-family="Liberation Sans, sans-serif" font-size="10" fill="#262626">0</text>
<line x1="26.4" y1="269" x2="27.9" y2="269" stroke="#262626" stroke-width="1"/>
<line x1="168" y1="269" x2="166.5" y2="269" stroke="#262626" stroke-width="1"/>
<text x="22.4" y="273.2" text-anchor="end" font-family="Liberation Sans, sans-serif" font-size="10" fill="#262626">2</text>
<line x1="26.4" y1="245.17" x2="27.9" y2="245.17" stroke="#262626" stroke-width="1"/>
<line x1="168" y1="245.17" x2="166.5" y2="245.17" stroke="#262626" stroke-width="1"/>
<text x="22.4" y="249.37" text-anchor="end" font-family="Liberation Sans, sans-serif" font-size="10" fill="#262626">4</text>
<line x1="26.4" y1="221.33" x2="27.9" y2="221.33" stroke="#262626" stroke-width="1"/>
<line x1="168" y1="221.33" x2="166.5" y2="221.33" stroke="#262626" stroke-width="1"/>
<text x="22.4" y="225.53" text-anchor="end" font-family="Liberation Sans, sans-serif" font-size="10" fill="#262626">6</text>
<line x1="26.4" y1="197.5" x2="27.9" y2="197.5" stroke="#262626" stroke-width="1"/>
<line x1="168" y1="197.5" x2="166.5" y2="197.5" stroke="#262626" stroke-width="1"/>
<text x="22.4" y="201.7" text-anchor="end" font-family="Liberation Sans, sans-serif" font-size="10" fill="#262626">8</text>
<text transform="translate(54.4,363.3) scale(0.955,1)" x="0" y="0" font-family="Liberation Sans, sans-serif" font-size="10.1" fill="#262626">Actuator angle <tspan font-style="italic" dx="-0.3">θ</tspan> <tspan dx="0.3">(</tspan><tspan dx="1.3" font-size="9">°</tspan><tspan dx="1.2">)</tspan></text>
<text transform="translate(10.8,268.5) rotate(-90)" x="0" y="0" text-anchor="middle" font-family="Liberation Sans, sans-serif" font-size="10" fill="#262626">Blocking force <tspan font-style="italic">F</tspan> (N)</text>
<text transform="translate(0.9,201) scale(0.85,1)" x="0" y="0" font-family="Liberation Sans, sans-serif" font-size="20" font-weight="bold" fill="#000">c.</text>
<text transform="translate(32.8,318.1) scale(1.13,1)" x="0" y="0" font-family="Liberation Serif, serif" font-size="12.4" letter-spacing="0.1" fill="#000" stroke="#000" stroke-width="0.1"><tspan font-style="italic">w</tspan> = 2.0 cm</text>
<text transform="translate(32.8,333.9) scale(1.13,1)" x="0" y="0" font-family="Liberation Serif, serif" font-size="12.4" letter-spacing="0.1" fill="#000" stroke="#000" stroke-width="0.1"><tspan font-style="italic">L</tspan><tspan font-style="italic" font-size="9" dy="2.2">1</tspan><tspan dy="-2.2" dx="-1.1"> = 2.5 cm</tspan></text>
<clipPath id="cd"><rect x="210.4" y="195.7" width="141" height="143"/></clipPath>
<rect x="210.4" y="195.7" width="141" height="143" fill="none" stroke="#363636" stroke-width="1.3"/>
<line x1="210.4" y1="277.41" x2="351.4" y2="277.41" stroke="#8a8a8a" stroke-width="1.2" stroke-dasharray="4.4 4.55" stroke-dashoffset="-0.9"/>
<polyline points="210.4,259.64 233.9,260.15 257.4,260.36 280.9,260.36 304.4,259.03 327.9,260.87 351.4,279.46" fill="none" stroke="#808000" stroke-width="1.35" stroke-linejoin="round"/>
<path d="M207.9,256.84L212.9,262.44M207.9,262.44L212.9,256.84M207.4,259.64L213.4,259.64" stroke="#808000" stroke-width="1.3"/>
<path d="M231.4,257.35L236.4,262.95M231.4,262.95L236.4,257.35M230.9,260.15L236.9,260.15" stroke="#808000" stroke-width="1.3"/>
<path d="M254.9,257.56L259.9,263.16M254.9,263.16L259.9,257.56M254.4,260.36L260.4,260.36" stroke="#808000" stroke-width="1.3"/>
<path d="M278.4,257.56L283.4,263.16M278.4,263.16L283.4,257.56M277.9,260.36L283.9,260.36" stroke="#808000" stroke-width="1.3"/>
<path d="M301.9,256.23L306.9,261.83M301.9,261.83L306.9,256.23M301.4,259.03L307.4,259.03" stroke="#808000" stroke-width="1.3"/>
<path d="M325.4,258.07L330.4,263.67M325.4,263.67L330.4,258.07M324.9,260.87L330.9,260.87" stroke="#808000" stroke-width="1.3"/>
<path d="M348.9,276.66L353.9,282.26M348.9,282.26L353.9,276.66M348.4,279.46L354.4,279.46" stroke="#808000" stroke-width="1.3"/>
<polyline clip-path="url(#cd)" points="210.4,260.91 213.53,261.47 216.67,262 219.8,262.49 222.93,262.95 226.07,263.39 229.2,263.79 232.33,264.17 235.47,264.52 238.6,264.85 241.73,265.16 244.87,265.45 248,265.72 251.13,265.98 254.27,266.21 257.4,266.43 260.53,266.64 263.67,266.84 266.8,267.02 269.93,267.19 273.07,267.35 276.2,267.5 279.33,267.63 282.47,267.76 285.6,267.89 288.73,268 291.87,268.11 295,268.21 298.13,268.3 301.27,268.39 304.4,268.47 307.53,268.54 310.67,268.62 313.8,268.68 316.93,268.75 320.07,268.8 323.2,268.86 326.33,268.91 329.47,268.96 332.6,269 335.73,269.04 338.87,269.08 342,269.12 345.13,269.15 348.27,269.19 351.4,269.22" fill="none" stroke="#808000" stroke-width="1.3" stroke-dasharray="1.1 1.2"/>
<polyline points="210.4,253 233.9,253 257.4,253.61 280.9,252.39 304.4,250.24 327.9,260.87 351.4,282.42" fill="none" stroke="#008080" stroke-width="1.35" stroke-linejoin="round"/>
<circle cx="210.4" cy="253" r="2.6" fill="#008080"/>
<circle cx="233.9" cy="253" r="2.6" fill="#008080"/>
<circle cx="257.4" cy="253.61" r="2.6" fill="#008080"/>
<circle cx="280.9" cy="252.39" r="2.6" fill="#008080"/>
<circle cx="304.4" cy="250.24" r="2.6" fill="#008080"/>
<circle cx="327.9" cy="260.87" r="2.6" fill="#008080"/>
<circle cx="351.4" cy="282.42" r="2.6" fill="#008080"/>
<polyline clip-path="url(#cd)" points="210.4,252.65 213.53,253.5 216.67,254.29 219.8,255.03 222.93,255.72 226.07,256.37 229.2,256.98 232.33,257.55 235.47,258.08 238.6,258.57 241.73,259.04 244.87,259.47 248,259.88 251.13,260.26 254.27,260.61 257.4,260.95 260.53,261.26 263.67,261.55 266.8,261.82 269.93,262.07 273.07,262.31 276.2,262.54 279.33,262.74 282.47,262.94 285.6,263.12 288.73,263.29 291.87,263.45 295,263.6 298.13,263.74 301.27,263.87 304.4,264 307.53,264.11 310.67,264.22 313.8,264.32 316.93,264.41 320.07,264.5 323.2,264.58 326.33,264.66 329.47,264.73 332.6,264.8 335.73,264.86 338.87,264.92 342,264.97 345.13,265.02 348.27,265.07 351.4,265.12" fill="none" stroke="#008080" stroke-width="1.3" stroke-dasharray="1.1 1.2"/>
<polyline points="210.4,247.38 233.9,246.26 257.4,247.89 280.9,246.26 304.4,243.6 327.9,260.87 351.4,284.46" fill="none" stroke="#0000ff" stroke-width="1.55" stroke-linejoin="round"/>
<circle cx="210.4" cy="247.38" r="2.6" fill="#0000ff"/>
<circle cx="233.9" cy="246.26" r="2.6" fill="#0000ff"/>
<circle cx="257.4" cy="247.89" r="2.6" fill="#0000ff"/>
<circle cx="280.9" cy="246.26" r="2.6" fill="#0000ff"/>
<circle cx="304.4" cy="243.6" r="2.6" fill="#0000ff"/>
<circle cx="327.9" cy="260.87" r="2.6" fill="#0000ff"/>
<circle cx="351.4" cy="284.46" r="2.6" fill="#0000ff"/>
<polyline clip-path="url(#cd)" points="210.4,244.4 213.53,245.53 216.67,246.58 219.8,247.57 222.93,248.49 226.07,249.36 229.2,250.17 232.33,250.92 235.47,251.63 238.6,252.29 241.73,252.91 244.87,253.49 248,254.03 251.13,254.54 254.27,255.01 257.4,255.46 260.53,255.87 263.67,256.26 266.8,256.62 269.93,256.96 273.07,257.28 276.2,257.58 279.33,257.85 282.47,258.11 285.6,258.36 288.73,258.59 291.87,258.8 295,259 298.13,259.18 301.27,259.36 304.4,259.52 307.53,259.67 310.67,259.82 313.8,259.95 316.93,260.08 320.07,260.19 323.2,260.3 326.33,260.4 329.47,260.5 332.6,260.59 335.73,260.67 338.87,260.75 342,260.83 345.13,260.89 348.27,260.96 351.4,261.02" fill="none" stroke="#0000ff" stroke-width="1.3" stroke-dasharray="1.1 1.2"/>
<polyline points="210.4,241.05 233.9,241.05 257.4,241.05 280.9,241.05 304.4,240.64 327.9,260.87 351.4,287.02" fill="none" stroke="#800080" stroke-width="1.3" stroke-linejoin="round"/>
<path d="M210.4,238.45L212.7,241.05L210.4,243.65L208.1,241.05Z" fill="#800080"/>
<path d="M233.9,238.45L236.2,241.05L233.9,243.65L231.6,241.05Z" fill="#800080"/>
<path d="M257.4,238.45L259.7,241.05L257.4,243.65L255.1,241.05Z" fill="#800080"/>
<path d="M280.9,238.45L283.2,241.05L280.9,243.65L278.6,241.05Z" fill="#800080"/>
<path d="M304.4,238.04L306.7,240.64L304.4,243.24L302.1,240.64Z" fill="#800080"/>
<path d="M327.9,258.27L330.2,260.87L327.9,263.47L325.6,260.87Z" fill="#800080"/>
<path d="M351.4,284.42L353.7,287.02L351.4,289.62L349.1,287.02Z" fill="#800080"/>
<polyline clip-path="url(#cd)" points="210.4,236.15 213.53,237.56 216.67,238.88 219.8,240.11 222.93,241.27 226.07,242.34 229.2,243.35 232.33,244.3 235.47,245.18 238.6,246.01 241.73,246.78 244.87,247.51 248,248.19 251.13,248.82 254.27,249.41 257.4,249.97 260.53,250.48 263.67,250.97 266.8,251.42 269.93,251.85 273.07,252.25 276.2,252.62 279.33,252.96 282.47,253.29 285.6,253.59 288.73,253.88 291.87,254.14 295,254.39 298.13,254.63 301.27,254.84 304.4,255.05 307.53,255.24 310.67,255.42 313.8,255.59 316.93,255.74 320.07,255.89 323.2,256.02 326.33,256.15 329.47,256.27 332.6,256.38 335.73,256.49 338.87,256.59 342,256.68 345.13,256.76 348.27,256.84 351.4,256.92" fill="none" stroke="#800080" stroke-width="1.3" stroke-dasharray="1.1 1.2"/>
<line x1="210.4" y1="338.7" x2="210.4" y2="337.2" stroke="#262626" stroke-width="1"/>
<line x1="210.4" y1="195.7" x2="210.4" y2="197.2" stroke="#262626" stroke-width="1"/>
<text x="210.4" y="353.3" text-anchor="middle" font-family="Liberation Sans, sans-serif" font-size="10" fill="#262626">0</text>
<line x1="233.9" y1="338.7" x2="233.9" y2="337.2" stroke="#262626" stroke-width="1"/>
<line x1="233.9" y1="195.7" x2="233.9" y2="197.2" stroke="#262626" stroke-width="1"/>
<text x="233.9" y="353.3" text-anchor="middle" font-family="Liberation Sans, sans-serif" font-size="10" fill="#262626">15</text>
<line x1="257.4" y1="338.7" x2="257.4" y2="337.2" stroke="#262626" stroke-width="1"/>
<line x1="257.4" y1="195.7" x2="257.4" y2="197.2" stroke="#262626" stroke-width="1"/>
<text x="257.4" y="353.3" text-anchor="middle" font-family="Liberation Sans, sans-serif" font-size="10" fill="#262626">30</text>
<line x1="280.9" y1="338.7" x2="280.9" y2="337.2" stroke="#262626" stroke-width="1"/>
<line x1="280.9" y1="195.7" x2="280.9" y2="197.2" stroke="#262626" stroke-width="1"/>
<text x="280.9" y="353.3" text-anchor="middle" font-family="Liberation Sans, sans-serif" font-size="10" fill="#262626">45</text>
<line x1="304.4" y1="338.7" x2="304.4" y2="337.2" stroke="#262626" stroke-width="1"/>
<line x1="304.4" y1="195.7" x2="304.4" y2="197.2" stroke="#262626" stroke-width="1"/>
<text x="304.4" y="353.3" text-anchor="middle" font-family="Liberation Sans, sans-serif" font-size="10" fill="#262626">60</text>
<line x1="327.9" y1="338.7" x2="327.9" y2="337.2" stroke="#262626" stroke-width="1"/>
<line x1="327.9" y1="195.7" x2="327.9" y2="197.2" stroke="#262626" stroke-width="1"/>
<text x="327.9" y="353.3" text-anchor="middle" font-family="Liberation Sans, sans-serif" font-size="10" fill="#262626">75</text>
<line x1="351.4" y1="338.7" x2="351.4" y2="337.2" stroke="#262626" stroke-width="1"/>
<line x1="351.4" y1="195.7" x2="351.4" y2="197.2" stroke="#262626" stroke-width="1"/>
<text x="351.4" y="353.3" text-anchor="middle" font-family="Liberation Sans, sans-serif" font-size="10" fill="#262626">90</text>
<line x1="210.4" y1="338.7" x2="211.9" y2="338.7" stroke="#262626" stroke-width="1"/>
<line x1="351.4" y1="338.7" x2="349.9" y2="338.7" stroke="#262626" stroke-width="1"/>
<text x="206.4" y="342.9" text-anchor="end" font-family="Liberation Sans, sans-serif" font-size="10" fill="#262626">-6</text>
<line x1="210.4" y1="318.27" x2="211.9" y2="318.27" stroke="#262626" stroke-width="1"/>
<line x1="351.4" y1="318.27" x2="349.9" y2="318.27" stroke="#262626" stroke-width="1"/>
<text x="206.4" y="322.47" text-anchor="end" font-family="Liberation Sans, sans-serif" font-size="10" fill="#262626">-4</text>
<line x1="210.4" y1="297.84" x2="211.9" y2="297.84" stroke="#262626" stroke-width="1"/>
<line x1="351.4" y1="297.84" x2="349.9" y2="297.84" stroke="#262626" stroke-width="1"/>
<text x="206.4" y="302.04" text-anchor="end" font-family="Liberation Sans, sans-serif" font-size="10" fill="#262626">-2</text>
<line x1="210.4" y1="277.41" x2="211.9" y2="277.41" stroke="#262626" stroke-width="1"/>
<line x1="351.4" y1="277.41" x2="349.9" y2="277.41" stroke="#262626" stroke-width="1"/>
<text x="206.4" y="281.61" text-anchor="end" font-family="Liberation Sans, sans-serif" font-size="10" fill="#262626">0</text>
<line x1="210.4" y1="256.99" x2="211.9" y2="256.99" stroke="#262626" stroke-width="1"/>
<line x1="351.4" y1="256.99" x2="349.9" y2="256.99" stroke="#262626" stroke-width="1"/>
<text x="206.4" y="261.19" text-anchor="end" font-family="Liberation Sans, sans-serif" font-size="10" fill="#262626">2</text>
<line x1="210.4" y1="236.56" x2="211.9" y2="236.56" stroke="#262626" stroke-width="1"/>
<line x1="351.4" y1="236.56" x2="349.9" y2="236.56" stroke="#262626" stroke-width="1"/>
<text x="206.4" y="240.76" text-anchor="end" font-family="Liberation Sans, sans-serif" font-size="10" fill="#262626">4</text>
<line x1="210.4" y1="216.13" x2="211.9" y2="216.13" stroke="#262626" stroke-width="1"/>
<line x1="351.4" y1="216.13" x2="349.9" y2="216.13" stroke="#262626" stroke-width="1"/>
<text x="206.4" y="220.33" text-anchor="end" font-family="Liberation Sans, sans-serif" font-size="10" fill="#262626">6</text>
<line x1="210.4" y1="195.7" x2="211.9" y2="195.7" stroke="#262626" stroke-width="1"/>
<line x1="351.4" y1="195.7" x2="349.9" y2="195.7" stroke="#262626" stroke-width="1"/>
<text x="206.4" y="199.9" text-anchor="end" font-family="Liberation Sans, sans-serif" font-size="10" fill="#262626">8</text>
<text transform="translate(238.4,361.5) scale(0.955,1)" x="0" y="0" font-family="Liberation Sans, sans-serif" font-size="10.1" fill="#262626">Actuator angle <tspan font-style="italic" dx="-0.3">θ</tspan> <tspan dx="0.3">(</tspan><tspan dx="1.3" font-size="9">°</tspan><tspan dx="1.2">)</tspan></text>
<text transform="translate(194.8,266.7) rotate(-90)" x="0" y="0" text-anchor="middle" font-family="Liberation Sans, sans-serif" font-size="10" fill="#262626">Blocking force <tspan font-style="italic">F</tspan> (N)</text>
<text transform="translate(182.6,203.8) scale(0.92,1)" x="0" y="0" font-family="Liberation Sans, sans-serif" font-size="20" font-weight="bold" fill="#000">d.</text>
<text transform="translate(214.5,317.8) scale(1.13,1)" x="0" y="0" font-family="Liberation Serif, serif" font-size="12.4" letter-spacing="0.1" fill="#000" stroke="#000" stroke-width="0.1"><tspan font-style="italic">w</tspan> = 2.0 cm</text>
<text transform="translate(214.5,333.4) scale(1.13,1)" x="0" y="0" font-family="Liberation Serif, serif" font-size="12.4" letter-spacing="0.1" fill="#000" stroke="#000" stroke-width="0.1"><tspan font-style="italic">L</tspan><tspan font-style="italic" font-size="9" dy="2.2">1</tspan><tspan dy="-2.2" dx="-1.1"> = 2.0 / 3.0 cm</tspan></text>
<rect x="34.6" y="370.8" width="283.4" height="27" fill="#fff" stroke="#262626" stroke-width="1"/>
<line x1="37.9" y1="379.3" x2="49.1" y2="379.3" stroke="#808000" stroke-width="1"/>
<path d="M40.9,376.6L46.1,382M40.9,382L46.1,376.6" stroke="#808000" stroke-width="1.4"/>
<text x="51.5" y="382.2" font-family="Liberation Sans, sans-serif" font-size="9.6" fill="#000" xml:space="preserve">8 kPa exp.</text>
<line x1="37.9" y1="390.3" x2="49.1" y2="390.3" stroke="#0000ff" stroke-width="1"/>
<circle cx="43.5" cy="390.3" r="2.6" fill="#0000ff"/>
<text x="51.5" y="393.2" font-family="Liberation Sans, sans-serif" font-size="9.6" fill="#000" xml:space="preserve">16 kPa exp.</text>
<line x1="106.6" y1="379.3" x2="114.6" y2="379.3" stroke="#808000" stroke-width="1.2" stroke-dasharray="1.1 1.3"/>
<text x="116.2" y="382.2" font-family="Liberation Sans, sans-serif" font-size="9.6" fill="#000" xml:space="preserve"> 8 kPa model</text>
<line x1="106.6" y1="390.3" x2="114.6" y2="390.3" stroke="#0000ff" stroke-width="1.2" stroke-dasharray="1.1 1.3"/>
<text x="116.2" y="393.2" font-family="Liberation Sans, sans-serif" font-size="9.6" fill="#000" xml:space="preserve">16 kPa model</text>
<line x1="178.1" y1="379.3" x2="189.3" y2="379.3" stroke="#008080" stroke-width="1"/>
<circle cx="183.7" cy="379.3" r="2.6" fill="#008080"/>
<text x="191.7" y="382.2" font-family="Liberation Sans, sans-serif" font-size="9.6" fill="#000" xml:space="preserve">12 kPa exp.</text>
<line x1="178.1" y1="390.3" x2="189.3" y2="390.3" stroke="#800080" stroke-width="1"/>
<path d="M183.7,387.8L185.9,390.3L183.7,392.8L181.5,390.3Z" fill="#800080"/>
<text x="191.7" y="393.2" font-family="Liberation Sans, sans-serif" font-size="9.6" fill="#000" xml:space="preserve">20 kPa exp.</text>
<line x1="247" y1="379.3" x2="255" y2="379.3" stroke="#008080" stroke-width="1.2" stroke-dasharray="1.1 1.3"/>
<text x="256.6" y="382.2" font-family="Liberation Sans, sans-serif" font-size="9.6" fill="#000" xml:space="preserve">12 kPa model</text>
<line x1="247" y1="390.3" x2="255" y2="390.3" stroke="#800080" stroke-width="1.2" stroke-dasharray="1.1 1.3"/>
<text x="256.6" y="393.2" font-family="Liberation Sans, sans-serif" font-size="9.6" fill="#000" xml:space="preserve">20 kPa model</text>
</svg>
</body></html>
